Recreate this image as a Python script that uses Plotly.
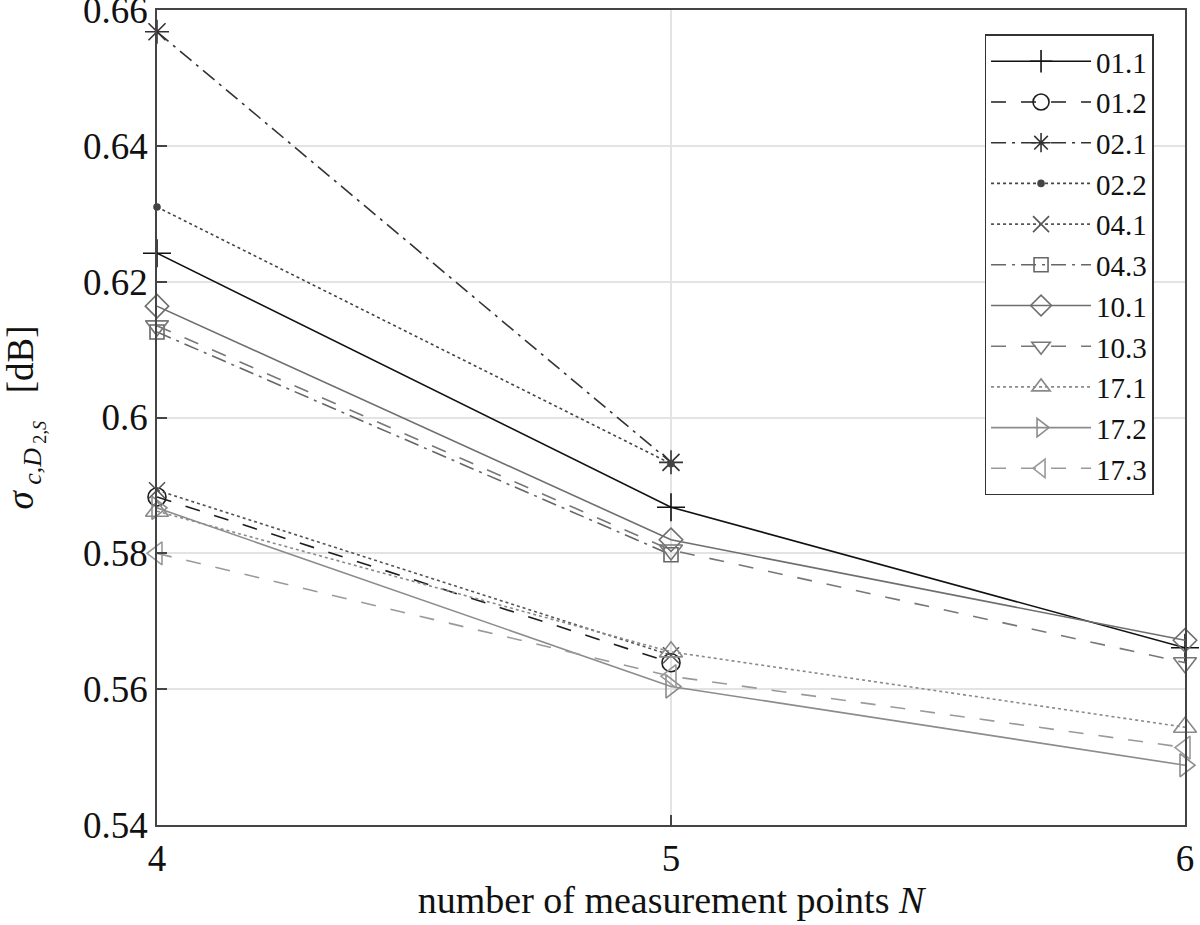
import plotly.graph_objects as go

N = [4, 5, 6]

names = ["01.1", "01.2", "02.1", "02.2", "04.1", "04.3", "10.1", "10.3", "17.1", "17.2", "17.3"]
s01_1 = [0.6242, 0.5868, 0.5661]
s01_2 = [0.5883, 0.5639, None]
s02_1 = [0.6568, 0.5934, None]
s02_2 = [0.6310, 0.5932, None]
s04_1 = [0.5893, 0.5650, None]
s04_3 = [0.6126, 0.5798, None]
s10_1 = [0.6164, 0.5820, 0.5672]
s10_3 = [0.6135, 0.5805, 0.5639]
s17_1 = [0.5862, 0.5655, 0.5544]
s17_2 = [0.5867, 0.5604, 0.5488]
s17_3 = [0.5800, 0.5619, 0.5514]
series = [s01_1, s01_2, s02_1, s02_2, s04_1, s04_3, s10_1, s10_3, s17_1, s17_2, s17_3]

yticks = [0.54, 0.56, 0.58, 0.60, 0.62, 0.64, 0.66]
yticktext = ["0.54", "0.56", "0.58", "0.6", "0.62", "0.64", "0.66"]
xticks = [4, 5, 6]

colors = ["#111111", "#1e1e1e", "#333333", "#444444", "#555555", "#666666",
          "#6e6e6e", "#777777", "#8a8a8a", "#8c8c8c", "#9a9a9a"]
dashes = ["solid", "longdash", "longdashdot", "dot", "dot", "longdashdot",
          "solid", "longdash", "dot", "solid", "longdash"]
symbols = ["cross-thin-open", "circle-open", "asterisk-open", "circle", "x-thin-open",
           "square-open", "diamond-open", "triangle-down-open", "triangle-up-open",
           "triangle-right-open", "triangle-left-open"]
sizes = [20, 18, 20, 6, 16, 14, 18, 20, 20, 20, 20]

fig = go.Figure()
for nm, ys, c, d, s, sz in zip(names, series, colors, dashes, symbols, sizes):
    fig.add_trace(go.Scatter(
        x=N, y=ys, name=nm, mode="lines+markers",
        line=dict(color=c, width=1.6, dash=d),
        marker=dict(symbol=s, size=sz, color=c, line=dict(color=c, width=1.6)),
        cliponaxis=False, connectgaps=False,
    ))

font = "Liberation Serif"
fig.update_layout(
    width=1200, height=925,
    margin=dict(l=157, r=15, t=10, b=100),
    paper_bgcolor="white", plot_bgcolor="white",
    font=dict(family=font, size=34, color="#222222"),
    showlegend=True,
    legend=dict(
        x=0.805, y=0.97, xanchor="left", yanchor="top",
        bgcolor="white", bordercolor="#333333", borderwidth=1.5,
        font=dict(family=font, size=29, color="#111111"),
        itemwidth=100, tracegroupgap=0,
    ),
    xaxis=dict(
        range=[4, 6], tickvals=xticks, ticktext=[str(v) for v in xticks],
        showgrid=True, gridcolor="#e3e3e3", gridwidth=1.5,
        ticks="inside", ticklen=10, tickcolor="#444444", tickwidth=1.5,
        showline=True, linecolor="#444444", linewidth=1.5, mirror=True,
        zeroline=False, automargin=False,
        title=dict(text="number of measurement points <i>N</i>", standoff=8,
                   font=dict(family=font, size=38, color="#111111")),
        tickfont=dict(family=font, size=37, color="#111111"),
    ),
    yaxis=dict(
        range=[0.54, 0.66001], tickvals=yticks, ticktext=yticktext,
        showgrid=True, gridcolor="#e3e3e3", gridwidth=1.5,
        ticks="inside", ticklen=10, tickcolor="#444444", tickwidth=1.5,
        showline=True, linecolor="#444444", linewidth=1.5, mirror=True,
        zeroline=False, ticklabeloverflow="allow", automargin=False,
        title=dict(text="<i>σ</i><sub> <i>c,D</i><sub> 2,<i>S</i></sub></sub>   [dB]", standoff=48,
                   font=dict(family=font, size=37, color="#111111")),
        tickfont=dict(family=font, size=37, color="#111111"),
    ),
)

fig.write_html("out.html", config={"displayModeBar": False},
               post_script="document.body.style.margin='0';document.body.style.overflow='hidden';")
